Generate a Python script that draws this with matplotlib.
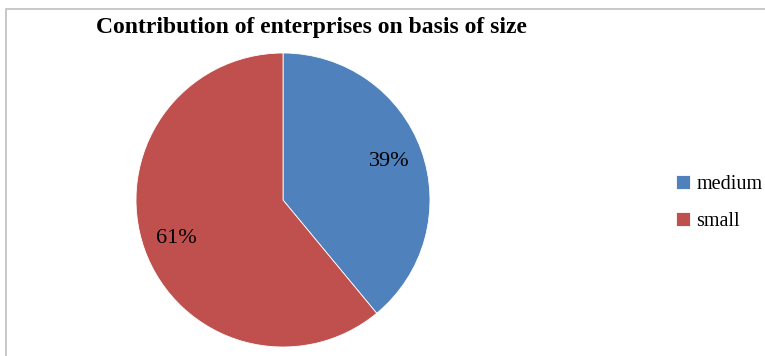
import numpy as np
import matplotlib
matplotlib.use("Agg")
import matplotlib.pyplot as plt
from matplotlib.patches import Rectangle

categories = ["medium", "small"]
shares = [39, 61]
colors = ["#4F81BD", "#C0504D"]

plt.rcParams['font.family'] = ['Liberation Serif', 'DejaVu Serif']

fig = plt.figure(figsize=(7.65, 3.56), dpi=100)

# chart area border (only top and left edges visible in the crop)
fig.patches.append(Rectangle((6 / 765, -0.1), 2.0, (356 - 9) / 356 + 0.1,
                             transform=fig.transFigure, fill=False,
                             edgecolor="#BFBFBF", linewidth=1.2))

ax = fig.add_axes([136 / 765, 9 / 356, 294 / 765, 294 / 356])
wedges, texts, autotexts = ax.pie(shares, colors=colors, startangle=90,
                                  counterclock=False, radius=1,
                                  autopct=lambda p: "%.0f%%" % p,
                                  pctdistance=0.77,
                                  wedgeprops=dict(edgecolor="white", linewidth=0.6),
                                  textprops=dict(fontsize=16, color="black"))
ax.set_xlim(-1, 1)
ax.set_ylim(-1, 1)
ax.set_aspect("equal")
ax.axis("off")

fig.text(311 / 765, 1 - 28 / 356, "Contribution of enterprises on basis of size",
         ha="center", va="center", fontsize=17, fontweight="bold")

fig.legend(wedges, categories, loc="center left",
           bbox_to_anchor=(676 / 765, 1 - 203 / 356), frameon=False,
           fontsize=14.5, handlelength=0.7, handleheight=0.7,
           handletextpad=0.3, labelspacing=0.9,
           borderpad=0, borderaxespad=0)

fig.savefig("out.png", dpi=100)
